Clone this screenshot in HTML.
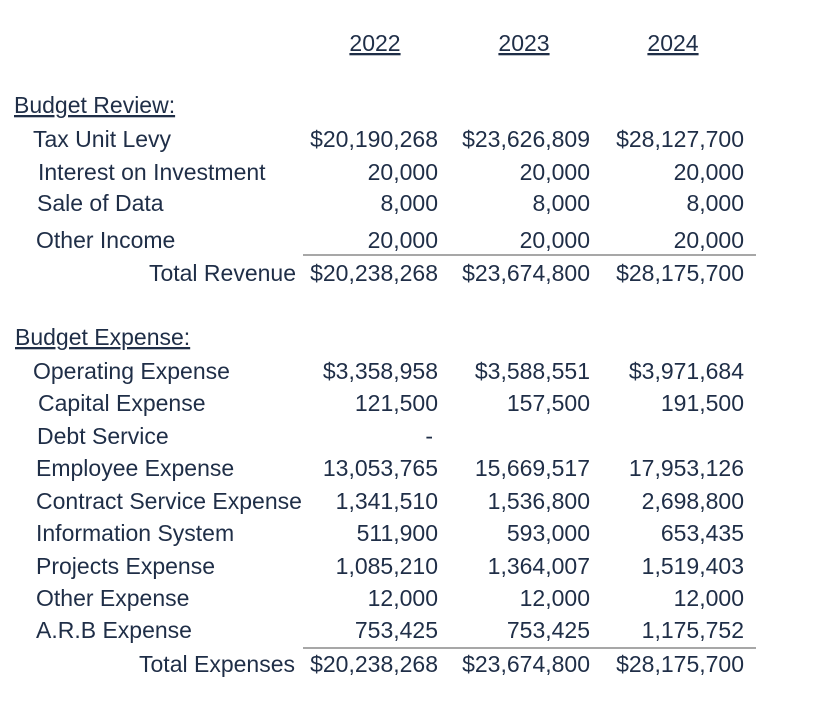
<!DOCTYPE html>
<html><head><meta charset="utf-8"><style>
html,body{margin:0;padding:0;background:#fff;}
svg{display:block;font-family:"Liberation Sans",sans-serif;}
text{fill:#1f2e47;font-size:23px;}
</style></head><body>
<svg id="t" width="832" height="724" viewBox="0 0 832 724"></svg>
<script>
const years = ["2022","2023","2024"];
const rowLabels = ["Tax Unit Levy","Interest on Investment","Sale of Data","Other Income","Total Revenue","Operating Expense","Capital Expense","Debt Service","Employee Expense","Contract Service Expense","Information System","Projects Expense","Other Expense","A.R.B Expense","Total Expenses"];
const col2022 = ["$20,190,268","20,000","8,000","20,000","$20,238,268","$3,358,958","121,500","-","13,053,765","1,341,510","511,900","1,085,210","12,000","753,425","$20,238,268"];
const col2023 = ["$23,626,809","20,000","8,000","20,000","$23,674,800","$3,588,551","157,500","","15,669,517","1,536,800","593,000","1,364,007","12,000","753,425","$23,674,800"];
const col2024 = ["$28,127,700","20,000","8,000","20,000","$28,175,700","$3,971,684","191,500","","17,953,126","2,698,800","653,435","1,519,403","12,000","1,175,752","$28,175,700"];
const svg = document.getElementById('t');
const NS = "http://www.w3.org/2000/svg";
const rowY = [139,172,203,240,273,371,403,436,468,501,533,566,598,630,664];
const labelX = [33,38,37,36,296,33,38,37,36,36,36,36,36,36,295];
const colRight = [438,590,744];
const colCenter = [375,524,673];
function txt(x,y,s,anchor){const t=document.createElementNS(NS,'text');t.setAttribute('x',x);t.setAttribute('y',y+8);if(anchor)t.setAttribute('text-anchor',anchor);t.textContent=s;svg.appendChild(t);return t;}
function line(x1,y1,x2,y2,c,w){const l=document.createElementNS(NS,'line');l.setAttribute('x1',x1);l.setAttribute('y1',y1);l.setAttribute('x2',x2);l.setAttribute('y2',y2);l.setAttribute('stroke',c);l.setAttribute('stroke-width',w);svg.appendChild(l);return l;}
years.forEach((y,i)=>{
  const t=txt(colCenter[i],43,y,'middle');
  
  
  t.setAttribute('text-decoration','underline');
});
const h1=txt(14,105,"Budget Review:");


h1.setAttribute('text-decoration','underline');
const h2=txt(15,337,"Budget Expense:");


h2.setAttribute('text-decoration','underline');
const cols=[col2022,col2023,col2024];
rowLabels.forEach((lab,r)=>{
  const isTotal = lab.startsWith("Total");
  const t=txt(labelX[r],rowY[r],lab,isTotal?'end':null);
  
  
  cols.forEach((c,ci)=>{
    if(!c[r])return;
    const v=txt(c[r]==="-"?colRight[ci]-5:colRight[ci],rowY[r],c[r],'end');
    
    
  });
});
const l1=line(303,255,756,255,'#8a8a8a',1.5);


const l2=line(303,648,756,648,'#8a8a8a',1.5);


</script>
</body></html>
